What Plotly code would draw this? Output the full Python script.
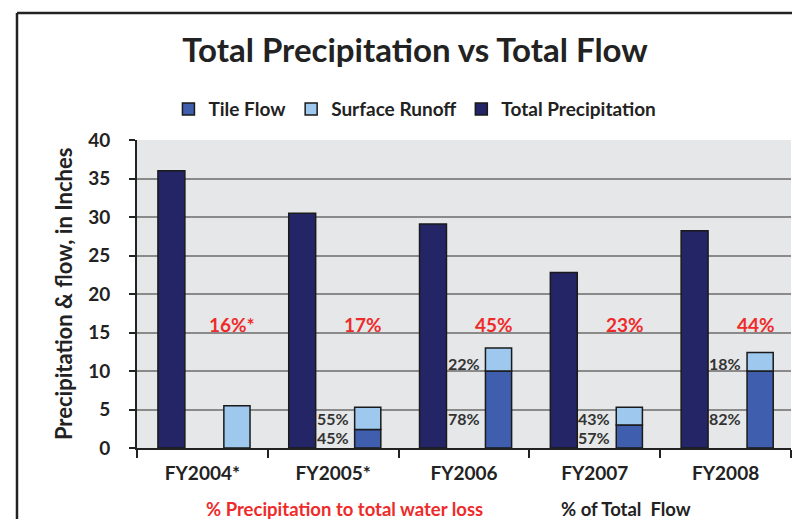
import plotly.graph_objects as go

categories = ["FY2004*", "FY2005*", "FY2006", "FY2007", "FY2008"]
total_precip = [36.0, 30.5, 29.1, 22.8, 28.2]
tile_flow = [0.0, 2.4, 10.0, 3.0, 10.0]
surface_runoff = [5.5, 2.9, 3.0, 2.3, 2.4]
precip_ratio_labels = ["16%*", "17%", "45%", "23%", "44%"]
tile_pct = [None, "45%", "78%", "57%", "82%"]
surface_pct = [None, "55%", "22%", "43%", "18%"]
y_ticks = [0, 5, 10, 15, 20, 25, 30, 35, 40]

FONT = "Lato"
DARK = "#222222"
OUTLINE = dict(color="#1a1a1a", width=1.5)

# the page body adds an 8px margin; figure is sized to fit the 800x527 window
W, H = 792, 511

fig = go.Figure()
fig.add_trace(go.Bar(
    x=categories, y=total_precip, name="Total Precipitation",
    marker=dict(color="#232566", line=OUTLINE),
    width=0.206, offset=-0.34, legendrank=3,
))
fig.add_trace(go.Bar(
    x=categories, y=tile_flow, name="Tile Flow",
    marker=dict(color="#3f5fae", line=OUTLINE),
    width=0.2, offset=0.164, legendrank=1,
))
fig.add_trace(go.Bar(
    x=categories, y=surface_runoff, base=tile_flow, name="Surface Runoff",
    marker=dict(color="#9fc8ee", line=OUTLINE),
    width=0.2, offset=0.164, legendrank=2,
))

annotations = []
for i, t in enumerate(precip_ratio_labels):
    annotations.append(dict(
        x=i + 0.23, y=16, xref="x", yref="y", text=f"<b>{t}</b>", showarrow=False,
        font=dict(family=FONT, size=19, color="#ee2b2b"), xanchor="center", yanchor="middle",
    ))
for i in range(len(categories)):
    if tile_pct[i] is None:
        continue
    big = tile_flow[i] >= 5
    ty = 3.8 if big else 1.3
    sy = tile_flow[i] + 1.0 if big else 3.8
    for txt, yy in ((tile_pct[i], ty), (surface_pct[i], sy)):
        annotations.append(dict(
            x=i + 0.135, y=yy, xref="x", yref="y", text=f"<b>{txt}</b>", showarrow=False,
            font=dict(family=FONT, size=16, color="#333333"), xanchor="right", yanchor="middle",
        ))
annotations.append(dict(
    x=-0.113, y=0.5, xref="paper", yref="paper", text="<b>Precipitation & flow, in Inches</b>",
    textangle=-90, showarrow=False, font=dict(family=FONT, size=22, color=DARK),
    xanchor="center", yanchor="middle",
))
annotations.append(dict(
    x=0.318, y=-0.198, xref="paper", yref="paper", text="<b>% Precipitation to total water loss</b>",
    showarrow=False, font=dict(family=FONT, size=18.5, color="#ee2b2b"), xanchor="center", yanchor="middle",
))
annotations.append(dict(
    x=0.748, y=-0.198, xref="paper", yref="paper", text="<b>% of Total  Flow</b>",
    showarrow=False, font=dict(family=FONT, size=18.5, color=DARK), xanchor="center", yanchor="middle",
))

frame_line = dict(color=DARK, width=2.5)
fig.update_layout(
    width=W, height=H,
    margin=dict(l=129, r=9, t=132, b=71),
    paper_bgcolor="white", plot_bgcolor="#e6e7e9",
    barmode="overlay",
    font=dict(family=FONT, color=DARK),
    title=dict(text="<b>Total Precipitation vs Total Flow</b>", x=(415 - 8) / W, xanchor="center",
               y=1 - (50 - 8) / H, yanchor="middle", yref="container",
               font=dict(family=FONT, size=33, color=DARK)),
    legend=dict(orientation="h", x=0.425, xanchor="center", y=1.10, yanchor="middle",
                font=dict(family=FONT, size=19, color=DARK, weight="bold"),
                bgcolor="rgba(0,0,0,0)", traceorder="normal"),
    showlegend=True,
    annotations=annotations,
    shapes=[
        dict(type="line", xref="paper", yref="paper", x0=-0.1835, x1=-0.1835, y0=-0.4, y1=1.412,
             line=frame_line, layer="above"),
        dict(type="line", xref="paper", yref="paper", x0=-0.1835, x1=1.1, y0=1.412, y1=1.412,
             line=frame_line, layer="above"),
    ],
)
fig.update_xaxes(
    type="category", range=[-0.5, 4.5], showgrid=False,
    showline=True, linecolor=DARK, linewidth=2,
    ticks="outside", tickson="boundaries", ticklen=8, tickwidth=2, tickcolor=DARK,
    ticklabelstandoff=7,
    tickfont=dict(family=FONT, size=19, color=DARK, weight="bold"),
)
fig.update_yaxes(
    range=[0, 40], tickvals=y_ticks, showgrid=True, gridcolor="#8a8a8a", gridwidth=2,
    showline=True, linecolor=DARK, linewidth=2, zeroline=False,
    ticks="outside", ticklen=6, tickwidth=2, tickcolor=DARK,
    ticklabelstandoff=15,
    tickfont=dict(family=FONT, size=19, color=DARK, weight="bold"),
)

fig.write_html("out.html")
